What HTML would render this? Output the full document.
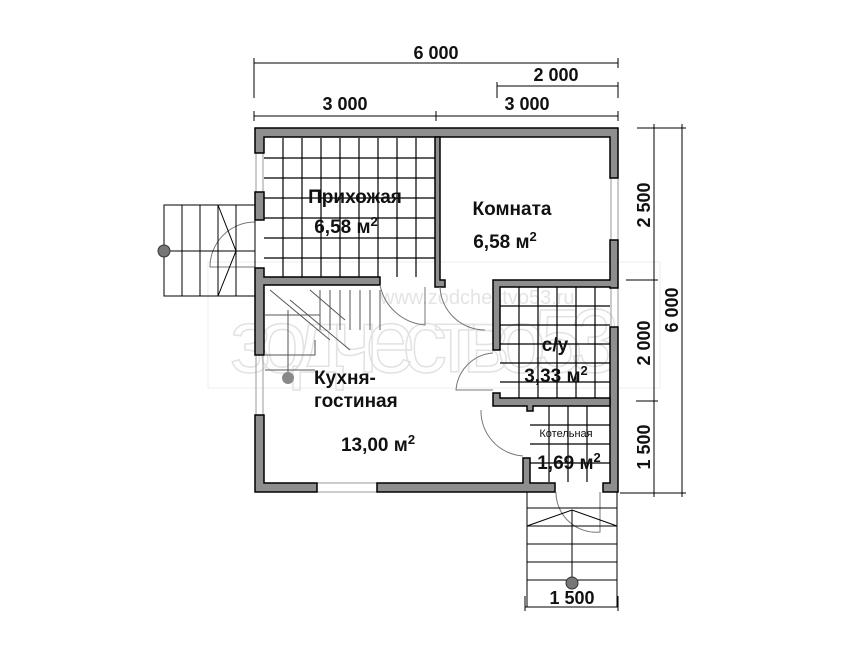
<!DOCTYPE html>
<html><head><meta charset="utf-8"><style>
html,body{margin:0;padding:0;background:#fff}
svg{display:block}
text{font-family:"Liberation Sans",sans-serif;font-weight:bold;fill:#111}
</style></head><body>
<svg width="867" height="651" viewBox="0 0 867 651" xmlns="http://www.w3.org/2000/svg">
<!-- watermark -->
<g>
<rect x="208" y="262" width="452" height="126" fill="none" stroke="#eee"/>
<text x="230" y="372" font-size="90" style="font-weight:normal;fill:none;stroke:#e2e2e2;stroke-width:1.5" textLength="390">зодчество53</text>
<text x="380" y="304" font-size="20" style="font-weight:normal;fill:#e4e4e4">www.zodchestvo53.ru</text>
</g>

<!-- dimensions -->
<g stroke="#000" stroke-width="1" fill="none">
<line x1="254" y1="63" x2="618" y2="63"/>
<line x1="254" y1="58" x2="254" y2="98"/>
<line x1="618" y1="58" x2="618" y2="68"/>
<line x1="497" y1="86" x2="618" y2="86"/>
<line x1="497" y1="82" x2="497" y2="98"/>
<line x1="618" y1="82" x2="618" y2="98"/>
<line x1="254" y1="116" x2="618" y2="116"/>
<line x1="254" y1="111" x2="254" y2="121"/>
<line x1="436" y1="111" x2="436" y2="121"/>
<line x1="618" y1="111" x2="618" y2="121"/>
<line x1="654" y1="124" x2="654" y2="497"/>
<line x1="682" y1="124" x2="682" y2="497"/>
<line x1="637" y1="128" x2="686" y2="128"/>
<line x1="626" y1="280" x2="658" y2="280"/>
<line x1="636" y1="401" x2="658" y2="401"/>
<line x1="620" y1="493" x2="686" y2="493"/>
<line x1="525" y1="607" x2="618" y2="607"/>
<line x1="525" y1="596" x2="525" y2="611"/>
<line x1="618" y1="596" x2="618" y2="611"/>
</g>
<text x="436" y="59" font-size="18" text-anchor="middle">6 000</text>
<text x="556" y="81" font-size="18" text-anchor="middle">2 000</text>
<text x="345" y="110" font-size="18" text-anchor="middle">3 000</text>
<text x="527" y="110" font-size="18" text-anchor="middle">3 000</text>
<text x="572" y="604" font-size="18" text-anchor="middle">1 500</text>
<text transform="translate(650,205) rotate(-90)" font-size="18" text-anchor="middle">2 500</text>
<text transform="translate(650,343) rotate(-90)" font-size="18" text-anchor="middle">2 000</text>
<text transform="translate(650,447) rotate(-90)" font-size="18" text-anchor="middle">1 500</text>
<text transform="translate(678,310) rotate(-90)" font-size="18" text-anchor="middle">6 000</text>

<!-- tile grids -->
<g stroke="#000" stroke-width="1.2">
<path d="M283 138V277M302 138V277M321 138V277M340 138V277M359 138V277M378 138V277M397 138V277M416 138V277M264 158H435M264 178H435M264 198H435M264 218H435M264 238H435M264 258H435"/>
<path d="M519 287V398M538 287V398M557 287V398M576 287V398M595 287V398M500 306H610M500 325H610M500 344H610M500 363H610M500 382H610"/>
<path d="M549 406V482M568 406V482M587 406V482M530 425H610M530 444H610M530 463H610"/>
</g>

<!-- windows -->
<g stroke="#999" stroke-width="1" fill="none">
<rect x="256" y="153" width="7" height="39"/>
<rect x="256" y="355" width="7" height="60"/>
<rect x="317" y="483" width="60" height="9"/>
<rect x="611" y="178" width="7" height="62"/>
<rect x="611" y="288" width="7" height="39"/>
</g>

<!-- walls -->
<g fill="#8e8e8e" stroke="#000" stroke-width="1.5">
<path d="M255 128H618V178H610V137H264V153H255Z"/>
<rect x="255" y="192" width="9" height="28"/>
<path d="M255 268H264V277H380V285H264V355H255Z"/>
<path d="M255 415H264V483H317V492H255Z"/>
<path d="M377 483H523V458H530V483H555V492H377Z"/>
<path d="M603 483H610V327H618V492H603Z"/>
<path d="M610 240H618V288H610V287H500V350H493V280H610Z"/>
<path d="M435 137H440V280H445V287H435Z"/>
<path d="M493 393H500V398H610V406H533V411H527V406H493Z"/>
</g>

<!-- doors -->
<g stroke="#777" stroke-width="1" fill="none">
<path d="M255 222 A45 45 0 0 0 210 267 H255"/>
<path d="M380 285 A50 50 0 0 0 425 325 V287"/>
<path d="M440 287 A45 45 0 0 0 485 330"/>
<path d="M493 353 A40 40 0 0 0 456 390 H493"/>
<path d="M481 410 A45 45 0 0 0 523 456"/>
<path d="M556 492 A40 40 0 0 0 600 532 V492"/>
</g>

<!-- inner stair -->
<g stroke="#555" stroke-width="1" fill="none">
<path d="M270 290L330 340M290 300L350 350M310 290L345 320"/>
<path d="M320 290V330M330 290V330M340 290V330M350 290V330M360 290V330M370 290V330M380 290V330"/>
<path d="M315 340V355H265M265 370H315M264 315H320"/>
<line x1="288" y1="310" x2="288" y2="378"/>
</g>
<circle cx="288" cy="378" r="6" fill="#888"/>

<!-- left stairs -->
<g stroke="#000" stroke-width="1" fill="none">
<rect x="164" y="205" width="91" height="91"/>
<path d="M182 205V296M200 205V296M218 205V296M236 205V296M164 251H255M218 205L236 251L218 296"/>
</g>
<circle cx="164" cy="251" r="6" fill="#777" stroke="#333"/>

<!-- bottom stairs -->
<g stroke="#000" stroke-width="1" fill="none">
<path d="M527 492V607M617 492V607"/>
<path d="M527 508H617M527 526H617M527 544H617M527 562H617M527 580H617"/>
<path d="M572 510V583M527 526L572 510L617 526"/>
</g>
<circle cx="572" cy="583" r="6" fill="#777" stroke="#333"/>

<!-- labels -->
<text x="355" y="203" font-size="19" text-anchor="middle">Прихожая</text>
<text x="346" y="233" font-size="19" text-anchor="middle">6,58 м<tspan font-size="13" dy="-7">2</tspan></text>
<text x="512" y="215" font-size="19" text-anchor="middle">Комната</text>
<text x="505" y="248" font-size="19" text-anchor="middle">6,58 м<tspan font-size="13" dy="-7">2</tspan></text>
<text x="555" y="351" font-size="19" text-anchor="middle">с/у</text>
<text x="556" y="382" font-size="19" text-anchor="middle">3,33 м<tspan font-size="13" dy="-7">2</tspan></text>
<text x="566" y="437" font-size="11" text-anchor="middle" style="font-weight:normal">Котельная</text>
<text x="569" y="469" font-size="19" text-anchor="middle">1,69 м<tspan font-size="13" dy="-7">2</tspan></text>
<text x="314" y="384" font-size="19">Кухня-</text>
<text x="314" y="407" font-size="19">гостиная</text>
<text x="378" y="451" font-size="19" text-anchor="middle">13,00 м<tspan font-size="13" dy="-7">2</tspan></text>
</svg>
</body></html>
